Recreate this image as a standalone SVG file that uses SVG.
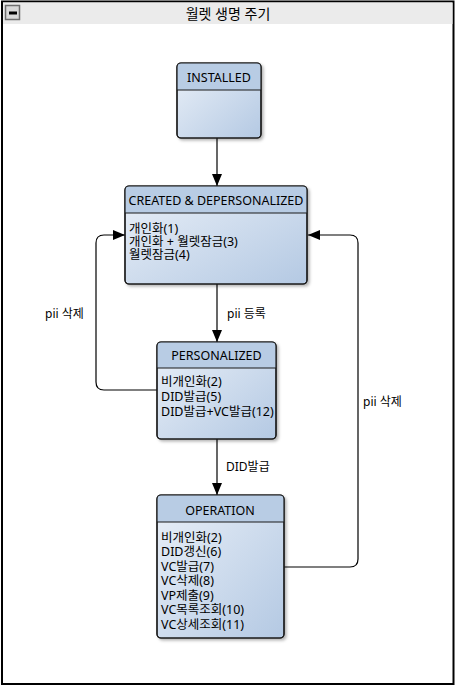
<svg xmlns="http://www.w3.org/2000/svg" width="457" height="687" viewBox="0 0 457 687">
<style>
  text { font-family: "Noto Sans", "Noto Sans CJK KR", sans-serif; fill: #000; }
  .hdr { font-size: 12.5px; text-anchor: middle; dominant-baseline: central; }
  .body { font-size: 12.5px; dominant-baseline: central; }
  .lbl { font-size: 12px; dominant-baseline: central; }
  .title { font-size: 14px; text-anchor: middle; dominant-baseline: central; }
  .edge { fill: none; stroke: #000; stroke-width: 1.2; }
  .box { stroke: #1a1a1a; stroke-width: 1.2; }
  .sep { stroke: #1a1a1a; stroke-width: 1.2; }
</style>
<defs>
  <linearGradient id="bodyGrad" x1="0" y1="0" x2="1" y2="1">
    <stop offset="0" stop-color="#eaf0f8"/>
    <stop offset="1" stop-color="#b4c9e3"/>
  </linearGradient>
  <filter id="shadow" x="-10%" y="-10%" width="130%" height="130%">
    <feDropShadow dx="2" dy="2" stdDeviation="1.5" flood-color="#000" flood-opacity="0.3"/>
  </filter>
  <marker id="arrow" markerWidth="12" markerHeight="12" viewBox="0 0 12 12" refX="12" refY="6" orient="auto" markerUnits="userSpaceOnUse">
    <path d="M0,1 L12,6 L0,11 Z" fill="#000"/>
  </marker>
</defs>

<!-- frame -->
<rect x="2" y="1.5" width="451.5" height="682.5" fill="#fff" stroke="#000" stroke-width="2"/>
<rect x="3" y="2.5" width="449.5" height="21.5" fill="#ebebeb"/>
<g id="collapse-icon">
  <rect x="5.5" y="5.5" width="14" height="14" fill="#d8d8d8" stroke="#6e6e6e" stroke-width="1.5"/>
  <rect x="9" y="11.5" width="8" height="3" fill="#000"/>
</g>
<text class="title" x="228" y="13">월렛 생명 주기</text>

<!-- connectors -->
<g id="connectors">
  <line class="edge" x1="217" y1="138" x2="217" y2="186" marker-end="url(#arrow)"/>
  <line class="edge" x1="217" y1="284" x2="217" y2="342" marker-end="url(#arrow)"/>
  <line class="edge" x1="217" y1="439" x2="217" y2="495" marker-end="url(#arrow)"/>
  <path class="edge" d="M157,390 L104,390 Q96,390 96,382 L96,243 Q96,235 104,235 L125,235" marker-end="url(#arrow)"/>
  <path class="edge" d="M284,567 L350,567 Q358,567 358,559 L358,243 Q358,235 350,235 L308,235" marker-end="url(#arrow)"/>
  <text class="lbl" x="45" y="313">pii 삭제</text>
  <text class="lbl" x="227" y="313">pii 등록</text>
  <text class="lbl" x="226" y="466">DID발급</text>
  <text class="lbl" x="363" y="401">pii 삭제</text>
</g>

<!-- INSTALLED -->
<g id="installed">
  <g filter="url(#shadow)">
    <rect class="box" x="177" y="63" width="84" height="75" rx="4" fill="url(#bodyGrad)"/>
  </g>
  <path d="M177,90 L177,67 Q177,63 181,63 L257,63 Q261,63 261,67 L261,90 Z" fill="#b8cce4"/>
  <rect x="177" y="63" width="84" height="75" rx="4" fill="none" class="box"/>
  <line class="sep" x1="177" y1="90" x2="261" y2="90"/>
  <text class="hdr" x="219" y="77">INSTALLED</text>
</g>

<!-- CREATED & DEPERSONALIZED -->
<g id="created">
  <g filter="url(#shadow)">
    <rect class="box" x="125" y="186" width="182" height="98" rx="4" fill="url(#bodyGrad)"/>
  </g>
  <path d="M125,213 L125,190 Q125,186 129,186 L303,186 Q307,186 307,190 L307,213 Z" fill="#b8cce4"/>
  <rect x="125" y="186" width="182" height="98" rx="4" fill="none" class="box"/>
  <line class="sep" x1="125" y1="213" x2="307" y2="213"/>
  <text class="hdr" x="216" y="200">CREATED &amp; DEPERSONALIZED</text>
  <text class="body" x="129" y="228">개인화(1)</text>
  <text class="body" x="129" y="241">개인화 + 월렛잠금(3)</text>
  <text class="body" x="129" y="254">월렛잠금(4)</text>
</g>

<!-- PERSONALIZED -->
<g id="personalized">
  <g filter="url(#shadow)">
    <rect class="box" x="157" y="342" width="119" height="97" rx="4" fill="url(#bodyGrad)"/>
  </g>
  <path d="M157,368 L157,346 Q157,342 161,342 L272,342 Q276,342 276,346 L276,368 Z" fill="#b8cce4"/>
  <rect x="157" y="342" width="119" height="97" rx="4" fill="none" class="box"/>
  <line class="sep" x1="157" y1="368" x2="276" y2="368"/>
  <text class="hdr" x="216.5" y="355">PERSONALIZED</text>
  <text class="body" x="161" y="381.5">비개인화(2)</text>
  <text class="body" x="161" y="396.5">DID발급(5)</text>
  <text class="body" x="161" y="411.5">DID발급+VC발급(12)</text>
</g>

<!-- OPERATION -->
<g id="operation">
  <g filter="url(#shadow)">
    <rect class="box" x="157" y="495" width="127" height="143" rx="4" fill="url(#bodyGrad)"/>
  </g>
  <path d="M157,522 L157,499 Q157,495 161,495 L280,495 Q284,495 284,499 L284,522 Z" fill="#b8cce4"/>
  <rect x="157" y="495" width="127" height="143" rx="4" fill="none" class="box"/>
  <line class="sep" x1="157" y1="522" x2="284" y2="522"/>
  <text class="hdr" x="220" y="510">OPERATION</text>
  <text class="body" x="161" y="537">비개인화(2)</text>
  <text class="body" x="161" y="551.5">DID갱신(6)</text>
  <text class="body" x="161" y="566">VC발급(7)</text>
  <text class="body" x="161" y="580.5">VC삭제(8)</text>
  <text class="body" x="161" y="595">VP제출(9)</text>
  <text class="body" x="161" y="609.5">VC목록조회(10)</text>
  <text class="body" x="161" y="624">VC상세조회(11)</text>
</g>
</svg>
